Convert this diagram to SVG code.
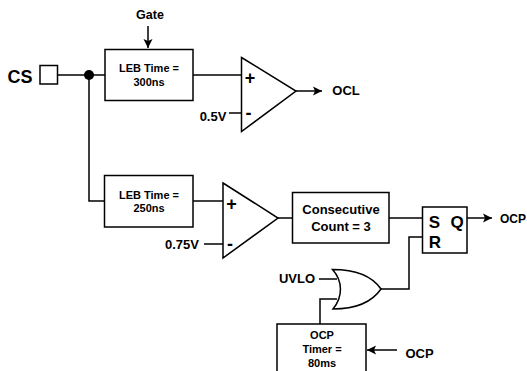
<svg xmlns="http://www.w3.org/2000/svg" width="527" height="371" viewBox="0 0 527 371">
<style>
text{font-family:"Liberation Sans",Arial,sans-serif;font-weight:bold;fill:#000;text-anchor:middle}
.s{fill:#fff;stroke:#000;stroke-width:1.5}
.c{fill:none;stroke:#000;stroke-width:1.5}
.a{marker-end:url(#arr)}
.t11{font-size:11px}.t12{font-size:12px}.t125{font-size:12.500px}.t13{font-size:13px}.t17{font-size:17px}.t18{font-size:18px}
</style>
<defs><marker id="arr" markerUnits="userSpaceOnUse" markerWidth="10" markerHeight="10" refX="9" refY="5" orient="auto"><path d="M0,0.5L9,5L0,9.500L2,5Z" fill="#000"/></marker></defs>
<rect width="527" height="371" fill="#fff"/>
<g id="connectors">
<path class="c" d="M57.500 75H105"/>
<path class="c" d="M89 75V201H105"/>
<circle cx="89" cy="75" r="5" fill="#000"/>
<path class="c a" d="M148 26V48"/>
<path class="c" d="M193 75H241"/>
<path class="c" d="M229 113H241"/>
<path class="c a" d="M296 91H322"/>
<path class="c" d="M193 201H223"/>
<path class="c" d="M204 244H223"/>
<path class="c" d="M278 218H293"/>
<path class="c" d="M389 218H422"/>
<path class="c a" d="M467 218H492"/>
<path class="c" d="M422 237H409V289H381"/>
<path class="c" d="M319 279H337"/>
<path class="c" d="M337 299H320V324"/>
<path class="c a" d="M397 350H367"/>
</g>
<g id="cs"><rect class="s" x="40" y="65.500" width="17.500" height="18.500"/><text class="t18" x="20" y="83">CS</text></g>
<g id="gate"><text class="t125" x="150" y="19">Gate</text></g>
<g id="leb1"><rect class="s" x="105" y="49.500" width="88" height="51"/><text class="t11" x="149" y="72">LEB Time =</text><text class="t11" x="149" y="86">300ns</text></g>
<g id="comp1"><path class="s" d="M241.500 57.500L296 91L241.500 131.500Z"/><text class="t18" x="250" y="84">+</text><text class="t18" x="248.500" y="119">-</text><text class="t13" x="213" y="121">0.5V</text></g>
<g id="ocl"><text class="t13" x="346" y="95">OCL</text></g>
<g id="leb2"><rect class="s" x="104.500" y="175.500" width="88.500" height="51.500"/><text class="t11" x="149" y="199">LEB Time =</text><text class="t11" x="149" y="212">250ns</text></g>
<g id="comp2"><path class="s" d="M223 183L278 218L223 258Z"/><text class="t18" x="231.500" y="210">+</text><text class="t18" x="230" y="250">-</text><text class="t13" x="182" y="249">0.75V</text></g>
<g id="count"><rect class="s" x="292.500" y="192.500" width="96.500" height="50.500"/><text class="t13" x="341" y="214">Consecutive</text><text class="t13" x="341" y="231">Count = 3</text></g>
<g id="sr"><rect class="s" x="422.500" y="207" width="44.500" height="46"/><text class="t17" x="434.500" y="228">S</text><text class="t17" x="457" y="228">Q</text><text class="t17" x="435" y="248">R</text></g>
<g id="ocp-out"><text class="t12" x="513" y="223">OCP</text></g>
<g id="uvlo"><text class="t13" x="297" y="283">UVLO</text></g>
<g id="or"><path class="s" d="M332.500 269.500C355 269.500 372 276 381 289C372 302 355 309 333 309C343 297 343 281 332.500 269.500Z"/></g>
<g id="timer"><rect class="s" x="277" y="324" width="89" height="60"/><text class="t11" x="322" y="339">OCP</text><text class="t11" x="322" y="353">Timer =</text><text class="t11" x="322" y="367">80ms</text></g>
<g id="ocp-in"><text class="t13" x="419.500" y="358">OCP</text></g>
</svg>
